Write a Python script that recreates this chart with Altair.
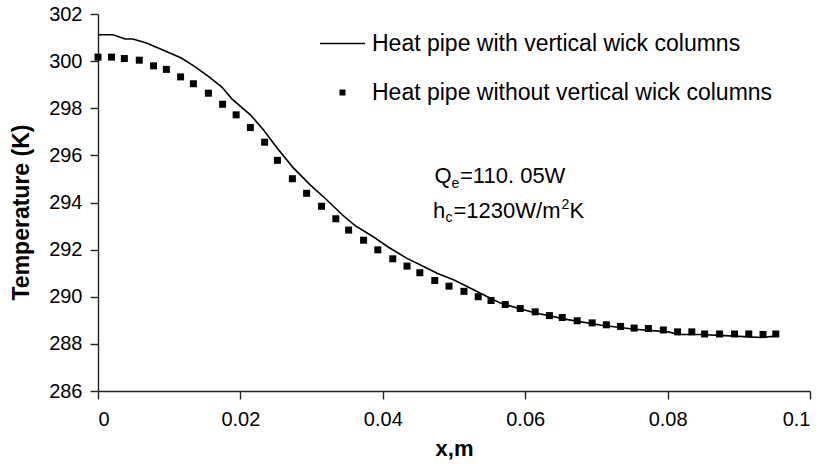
import altair as alt
import pandas as pd

# ---------------- data ----------------
series_names = [
    "Heat pipe with vertical wick columns",
    "Heat pipe without vertical wick columns",
]

line_x = [0.0000, 0.0021, 0.0038, 0.0049, 0.0068, 0.0096, 0.0117, 0.0136, 0.0155,
          0.0174, 0.0188, 0.0214, 0.0232, 0.0251, 0.0274, 0.0298, 0.0320, 0.0343,
          0.0362, 0.0373, 0.0390, 0.0408, 0.0434, 0.0458, 0.0477, 0.0500, 0.0524,
          0.0547, 0.0566, 0.0613, 0.0660, 0.0707, 0.0754, 0.0801, 0.0815, 0.0847,
          0.0894, 0.0932, 0.0951]
line_T = [301.12, 301.12, 300.94, 300.94, 300.77, 300.41, 300.13, 299.77, 299.35,
          298.90, 298.40, 297.72, 297.10, 296.33, 295.48, 294.75, 294.15, 293.48,
          293.00, 292.80, 292.48, 292.10, 291.63, 291.27, 290.99, 290.71, 290.35,
          290.00, 289.72, 289.32, 289.03, 288.79, 288.62, 288.51, 288.40, 288.40,
          288.33, 288.27, 288.33]

sq_x = [0.0000, 0.0019, 0.0037, 0.0058, 0.0078, 0.0096, 0.0116, 0.0134, 0.0155,
        0.0175, 0.0194, 0.0214, 0.0234, 0.0252, 0.0273, 0.0293, 0.0314, 0.0334,
        0.0352, 0.0373, 0.0393, 0.0414, 0.0434, 0.0452, 0.0473, 0.0493, 0.0514,
        0.0534, 0.0552, 0.0572, 0.0593, 0.0614, 0.0634, 0.0652, 0.0673, 0.0694,
        0.0714, 0.0734, 0.0753, 0.0773, 0.0794, 0.0814, 0.0834, 0.0852, 0.0873,
        0.0894, 0.0914, 0.0934, 0.0952]
sq_T = [300.17, 300.17, 300.11, 300.04, 299.80, 299.65, 299.33, 299.04, 298.64,
        298.17, 297.72, 297.18, 296.56, 295.79, 295.01, 294.39, 293.84, 293.31,
        292.83, 292.40, 291.99, 291.61, 291.30, 291.02, 290.69, 290.45, 290.23,
        290.00, 289.84, 289.67, 289.50, 289.36, 289.20, 289.12, 288.98, 288.89,
        288.81, 288.74, 288.67, 288.65, 288.59, 288.51, 288.51, 288.42, 288.42,
        288.42, 288.42, 288.40, 288.42]

x_ticks = [0, 0.02, 0.04, 0.06, 0.08, 0.1]
y_ticks = [286, 288, 290, 292, 294, 296, 298, 300, 302]

# annotation texts: (text, size) pieces
ann_line1 = [("Q", 22), ("e", 14), ("=110. 05W", 22)]
ann_line2 = [("h", 22), ("c", 14), ("=1230W/m", 22), ("2", 14), ("K", 22)]

# ---------------- chart ----------------
FONT = "Liberation Sans"
W, H = 712, 377

# legend symbols: a thin horizontal bar (line) and a square
LINE_SYMBOL = "M-7.5,-0.22H7.5V0.22H-7.5Z"

line_df = pd.DataFrame({"x": line_x, "T": line_T, "series": series_names[0]})
sq_df = pd.DataFrame({"x": sq_x, "T": sq_T, "series": series_names[1]})

x_enc = alt.X(
    "x:Q",
    scale=alt.Scale(domain=[0, 0.1], nice=False, zero=False),
    axis=alt.Axis(
        values=x_ticks, format="~g", title="x,m", grid=False,
        labelFont=FONT, labelFontSize=20, labelColor="black", labelPadding=10,
        tickSize=8, tickColor="#222", tickWidth=1.4,
        domainColor="#222", domainWidth=1.4,
        titleFont=FONT, titleFontSize=22, titleFontWeight="bold", titleColor="black",
        titleBaseline="alphabetic", titleX=W / 2, titleY=64,
    ),
)
y_enc = alt.Y(
    "T:Q",
    scale=alt.Scale(domain=[286, 302], nice=False, zero=False),
    axis=alt.Axis(
        values=y_ticks, title="Temperature (K)", grid=False,
        labelFont=FONT, labelFontSize=20, labelColor="black", labelPadding=8,
        tickSize=8, tickColor="#222", tickWidth=1.4,
        domainColor="#222", domainWidth=1.4,
        titleFont=FONT, titleFontSize=23, titleFontWeight="bold", titleColor="black",
        titleBaseline="alphabetic", titleAngle=270, titleX=-70, titleY=198,
    ),
)

line = alt.Chart(line_df).mark_line(color="black", strokeWidth=1.6).encode(
    x=x_enc, y=y_enc
)

points = alt.Chart(sq_df).mark_point(
    filled=True, color="black", size=49, opacity=1,
).encode(
    x=x_enc,
    y=y_enc,
    shape=alt.Shape(
        "series:N",
        scale=alt.Scale(domain=series_names, range=[LINE_SYMBOL, "square"]),
        legend=alt.Legend(
            title=None, orient="none", legendX=233, legendY=18, padding=0,
            labelFont=FONT, labelFontSize=23, labelColor="black", labelLimit=600,
            labelOffset=18, rowPadding=25, symbolSize=36,
            symbolFillColor="black", symbolOpacity=1,
        ),
    ),
)

one = pd.DataFrame({"k": [0]})


def piece(text, size, px, py):
    return alt.Chart(one).mark_text(
        text=text, font=FONT, fontSize=size, color="black",
        align="left", baseline="alphabetic",
    ).encode(x=alt.value(px), y=alt.value(py))


# positions of annotation pieces relative to the plot area (pixels)
ann_layers = []
pos1 = [(336.5, 169), (353.5, 174), (362, 169)]
pos2 = [(335, 204.3), (347.5, 208), (355.5, 204.3), (463.5, 194.5), (471.5, 204.3)]
for (t, s), (px, py) in zip(ann_line1, pos1):
    ann_layers.append(piece(t, s, px, py))
for (t, s), (px, py) in zip(ann_line2, pos2):
    ann_layers.append(piece(t, s, px, py))

chart = alt.layer(line, points, *ann_layers).properties(
    width=W, height=H,
    autosize=alt.AutoSizeParams(type="none"),
    padding={"left": 98, "top": 14, "right": 17, "bottom": 73},
    background="white",
).configure_view(stroke=None)

chart.save("out.html", embed_options={"renderer": "svg", "actions": False})
